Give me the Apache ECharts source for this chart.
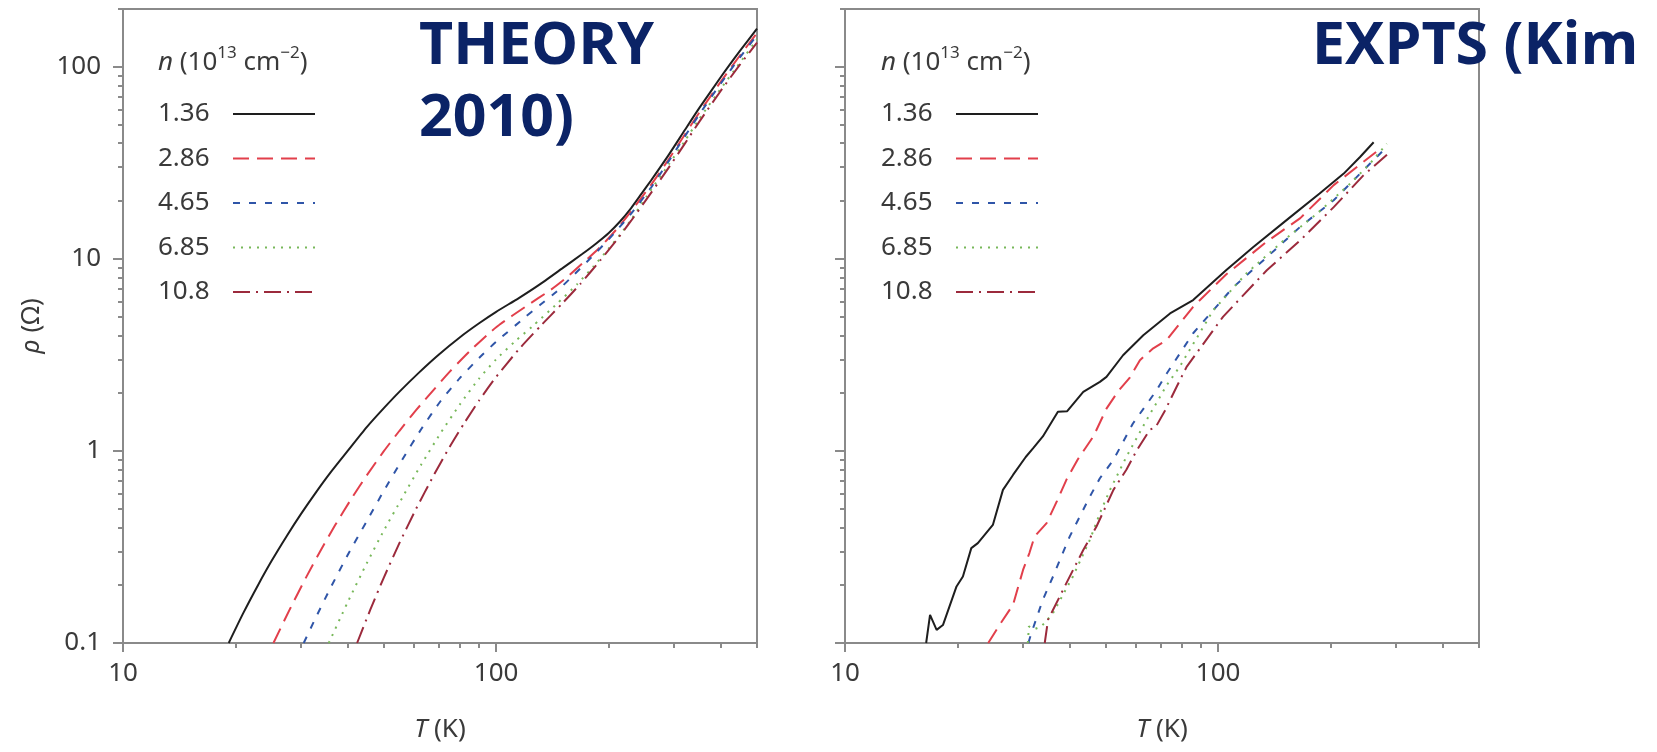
<!DOCTYPE html>
<html>
<head>
    <meta charset="utf-8"/>
    <title>rho vs T</title>
    <style>
        html, body { margin: 0; padding: 0; background: #fff; }
        #chart { width: 1657px; height: 752px; }
    </style>
</head>
<body>
<div id="chart"></div>
<script src="https://cdn.jsdelivr.net/npm/echarts@6/dist/echarts.min.js"></script>
<script>
    // carrier densities n (10^13 cm^-2), used as series names
    var densities = ['1.36', '2.86', '4.65', '6.85', '10.8'];

    // theory curves, [T (K), rho (Ohm)]
    var theory136 = [[19.2,0.1],[21,0.143],[23,0.2],[25,0.267],[27.5,0.362],[30,0.47],[33,0.614],[36,0.773],[40,1.0],[45,1.33],[50,1.67],[55,2.03],[62,2.55],[70,3.16],[80,3.91],[90,4.62],[100,5.3],[115,6.25],[130,7.3],[150,8.9],[170,10.6],[185,12.0],[200,13.6],[215,15.7],[230,18.4],[245,21.8],[260,25.6],[290,34.8],[320,46.7],[350,60.9],[400,88.5],[450,121],[500,158]];
    var theory286 = [[25.3,0.1],[28,0.15],[31,0.221],[34,0.308],[37,0.41],[41,0.567],[45,0.746],[50,0.997],[55,1.27],[61,1.63],[68,2.08],[75,2.58],[85,3.31],[95,4.05],[102,4.54],[120,5.65],[140,6.9],[155,8.04],[175,9.94],[188,11.3],[200,12.8],[215,15.0],[230,17.7],[260,24.3],[290,33.0],[320,44.3],[350,57.7],[400,83.8],[450,114.5],[500,150]];
    var theory465 = [[30.5,0.1],[33,0.138],[36,0.194],[40,0.287],[45,0.431],[50,0.62],[56,0.9],[63,1.3],[71,1.82],[80,2.4],[90,3.05],[100,3.7],[120,5.0],[131,5.75],[145,6.75],[162,8.3],[180,10.2],[200,12.6],[230,17.2],[260,23.5],[290,32.3],[320,43.3],[350,56.4],[400,82],[450,112],[500,146]];
    var theory685 = [[35.6,0.1],[40,0.163],[45,0.26],[50,0.385],[56,0.57],[63,0.85],[71,1.24],[80,1.75],[90,2.38],[100,3.0],[112,3.7],[125,4.45],[145,5.8],[165,7.4],[182,9.1],[200,11.3],[215,13.4],[230,16.0],[253,21.2],[290,31],[320,41],[350,53.5],[400,77],[450,105],[500,139]];
    var theory108 = [[42.4,0.1],[46,0.149],[50,0.219],[55,0.33],[61,0.499],[68,0.746],[75,1.046],[82,1.39],[90,1.83],[100,2.43],[115,3.38],[132,4.51],[150,5.83],[168,7.4],[190,9.82],[210,12.5],[230,15.8],[250,19.8],[286,28.7],[320,39.7],[350,51.7],[400,75.1],[450,102.6],[500,133.5]];

    // experiments (Kim), [T (K), rho (Ohm)]
    var expt136 = [[16.5,0.1],[16.9,0.14],[17.6,0.117],[18.3,0.124],[19.9,0.197],[20.7,0.222],[21.8,0.312],[22.7,0.331],[24.9,0.412],[26.5,0.627],[28.2,0.75],[30.5,0.93],[31.9,1.03],[33.9,1.19],[37.2,1.6],[39.4,1.61],[43.5,2.03],[48.2,2.29],[50.2,2.43],[55.6,3.15],[63,4.0],[74.3,5.2],[85.7,6.1],[105,8.73],[124,11.5],[156,16.5],[187,21.9],[217,27.8],[240,33.9],[261,40.5]];
    var expt286 = [[24.2,0.1],[26,0.125],[28.2,0.158],[30,0.24],[31.2,0.294],[32.2,0.358],[34.7,0.421],[37,0.55],[39.2,0.707],[42,0.9],[46.3,1.19],[50.2,1.66],[54,2.05],[57.9,2.4],[61.7,2.97],[67,3.42],[72.8,3.78],[85.7,5.63],[105,8.3],[135,12.3],[166,16.3],[204,24.2],[240,31],[272,37.5]];
    var expt465 = [[31,0.1],[31.6,0.113],[33.9,0.168],[36.1,0.222],[40,0.358],[45.3,0.578],[48.2,0.721],[52.4,0.898],[59.1,1.39],[68.4,2.07],[72.8,2.53],[85.7,4.1],[110,7.15],[135,10.2],[166,14.7],[204,20.2],[250,30.1],[277,36.7]];
    var expt685 = [[30.9,0.1],[31.1,0.122],[32.2,0.118],[33.6,0.122],[36.1,0.143],[40.8,0.222],[45.3,0.344],[48.2,0.474],[51.3,0.627],[56.8,0.934],[64.3,1.45],[72.8,2.2],[78.9,2.75],[97,5.4],[119,8.4],[150,12.5],[184,17.2],[226,24.7],[255,31.3],[283,39.8]];
    var expt108 = [[34.3,0.1],[35,0.132],[39.2,0.205],[43.5,0.305],[47.2,0.404],[52.4,0.627],[56.8,0.8],[60.4,1.0],[65.6,1.29],[68,1.33],[72,1.62],[77.4,2.16],[82.3,2.74],[103,4.99],[135,8.73],[166,12.5],[204,18.6],[245,27.2],[289,36]];

    // ticks
    var xTicksMajor = [10, 100];
    var xTicksMinor = [20, 30, 40, 50, 60, 70, 80, 90, 200, 300, 400, 500];
    var yTicksMajor = [0.1, 1, 10, 100];
    var yTicksMinor = [0.2, 0.3, 0.4, 0.5, 0.6, 0.7, 0.8, 0.9, 2, 3, 4, 5, 6, 7, 8, 9, 20, 30, 40, 50, 60, 70, 80, 90, 200];

    var theoryData = [theory136, theory286, theory465, theory685, theory108];
    var exptData = [expt136, expt286, expt465, expt685, expt108];

    var colors = ['#1e1e1e', '#e23f4b', '#2f55a8', '#78b85a', '#9c2a3c'];
    var dashes = ['solid', [16, 8], [7, 9], [2, 6], [17, 6, 2, 6]];

    var axisColor = '#8a8a8a';
    var labelColor = '#3a3a3a';
    var font = 'Noto Sans';
    var navy = '#0b2366';
    var bigFont = 'bold 59px "Open Sans"';

    var myChart = echarts.init(document.getElementById('chart'));

    // major / minor axes overlap on the same grid, only tick length differs
    function xAxis(grid, major) {
        return {
            type: 'log', logBase: 10, gridIndex: grid, min: 10, max: 500, position: 'bottom',
            axisLine: {show: major, lineStyle: {color: axisColor, width: 2}},
            axisTick: {show: true, length: major ? 9 : 5, customValues: major ? xTicksMajor : xTicksMinor,
                lineStyle: {color: axisColor, width: 2}},
            axisLabel: {show: major, customValues: xTicksMajor, margin: 18, fontSize: 26,
                color: labelColor, fontFamily: font},
            splitLine: {show: false},
            name: major ? '{i|T} (K)' : '',
            nameLocation: 'middle', nameGap: 74,
            nameTextStyle: {fontSize: 26, color: labelColor, fontFamily: font,
                rich: {i: {fontStyle: 'italic', fontSize: 26, color: labelColor, fontFamily: font}}}
        };
    }

    function yAxis(grid, major, labels) {
        return {
            type: 'log', logBase: 10, gridIndex: grid, min: 0.1, max: 200, position: 'left',
            axisLine: {show: major, lineStyle: {color: axisColor, width: 2}},
            axisTick: {show: true, length: major ? 10 : 5, customValues: major ? yTicksMajor : yTicksMinor,
                lineStyle: {color: axisColor, width: 2}},
            axisLabel: {show: major && labels, customValues: yTicksMajor, margin: 22, fontSize: 26,
                color: labelColor, fontFamily: font},
            splitLine: {show: false},
            name: (major && labels) ? '{i|ρ} (Ω)' : '',
            nameLocation: 'middle', nameGap: 78,
            nameTextStyle: {fontSize: 26, color: labelColor, fontFamily: font,
                rich: {i: {fontStyle: 'italic', fontSize: 26, color: labelColor, fontFamily: font}}}
        };
    }

    function legendFor(left) {
        return {
            left: left, top: 96, orient: 'vertical', align: 'right', selectedMode: false,
            itemWidth: 82, itemHeight: 14, itemGap: 18.5,
            data: densities,
            itemStyle: {opacity: 0},
            formatter: function (name) { return '{a|' + name + '}'; },
            textStyle: {
                rich: {a: {width: 70, align: 'left', fontSize: 26, lineHeight: 28, color: labelColor, fontFamily: font}}
            }
        };
    }

    function legendTitle(left) {
        return {
            left: left, top: 40,
            text: '{i|n}{n| (10}{s|13}{n| cm}{s|−2}{n|)}',
            textStyle: {
                fontSize: 26, fontWeight: 'normal', color: labelColor, fontFamily: font,
                rich: {
                    i: {fontStyle: 'italic', fontSize: 26, lineHeight: 36, color: labelColor, fontFamily: font},
                    n: {fontSize: 26, lineHeight: 36, color: labelColor, fontFamily: font},
                    s: {fontSize: 17, lineHeight: 18, verticalAlign: 'top', color: labelColor, fontFamily: font}
                }
            }
        };
    }

    var series = [];
    for (var i = 0; i < densities.length; i++) {
        series.push({
            name: densities[i], type: 'line', xAxisIndex: 0, yAxisIndex: 0,
            data: theoryData[i], symbol: 'none', smooth: 0.2, clip: true,
            lineStyle: {color: colors[i], width: 2, type: dashes[i]}, itemStyle: {color: colors[i]}
        });
    }
    for (var j = 0; j < densities.length; j++) {
        series.push({
            name: densities[j], type: 'line', xAxisIndex: 2, yAxisIndex: 2,
            data: exptData[j], symbol: 'none', clip: true,
            lineStyle: {color: colors[j], width: 2, type: dashes[j]}, itemStyle: {color: colors[j]}
        });
    }

    var option = {
        backgroundColor: '#ffffff',
        animation: false,
        title: [legendTitle(153), legendTitle(876)],
        legend: [legendFor(153), legendFor(876)],
        grid: [
            {left: 123, top: 9, width: 634, height: 634, show: true, borderColor: axisColor, borderWidth: 2},
            {left: 845, top: 9, width: 634, height: 634, show: true, borderColor: axisColor, borderWidth: 2}
        ],
        xAxis: [xAxis(0, true), xAxis(0, false), xAxis(1, true), xAxis(1, false)],
        yAxis: [yAxis(0, true, true), yAxis(0, false, true), yAxis(1, true, false), yAxis(1, false, false)],
        series: series,
        graphic: [
            {type: 'text', x: 419, y: 47, z: 100,
                style: {text: 'THEORY', font: bigFont, fill: navy, verticalAlign: 'middle'}},
            {type: 'text', x: 419, y: 119, z: 100,
                style: {text: '2010)', font: bigFont, fill: navy, verticalAlign: 'middle'}},
            {type: 'text', x: 1312, y: 47, z: 100,
                style: {text: 'EXPTS (Kim', font: bigFont, fill: navy, verticalAlign: 'middle'}}
        ]
    };
    myChart.setOption(option);
</script>
</body>
</html>
